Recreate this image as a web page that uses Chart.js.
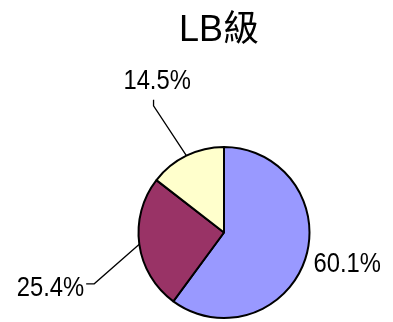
<!DOCTYPE html>
<html>
<head>
<meta charset="utf-8">
<script src="https://cdn.jsdelivr.net/npm/chart.js@4.4.0/dist/chart.umd.min.js"></script>
<style>
  html, body { margin: 0; padding: 0; background: #fff; }
  #wrap { width: 393px; height: 322px; }
</style>
</head>
<body>
<div id="wrap"><canvas id="lbChart" width="393" height="322"></canvas></div>
<script>
// البيانات
const chartTitle = 'LB級';
const categories = ['A', 'B', 'C'];
const shares = [60.1, 25.4, 14.5];
const sliceColors = ['#9999FF', '#993366', '#FFFFCC'];

// مواضع النصوص وخطوط الدلالة بوحدات نصف القطر من المركز
const labelSpots = [
    { at: [1.047, 0.371], align: 'left', leader: null },
    { at: [-1.635, 0.647], align: 'right', leader: [[-1.518, 0.6], [-1.612, 0.6]] },
    { at: [-0.782, -1.765], align: 'center', leader: [[-0.824, -1.482], [-0.824, -1.553]] }
];

const labelPlugin = {
    id: 'pieLabels',
    afterDraw(chart) {
        const ctx = chart.ctx;
        const arcs = chart.getDatasetMeta(0).data;

        // العنوان
        ctx.save();
        ctx.fillStyle = '#000';
        ctx.font = '36px "Liberation Sans", Arial, "Noto Sans CJK TC", sans-serif';
        ctx.textAlign = 'center';
        ctx.textBaseline = 'alphabetic';
        ctx.fillText(chartTitle, 219, 41);
        ctx.restore();

        arcs.forEach(function (arc, i) {
            const cx = arc.x, cy = arc.y, r = arc.outerRadius;
            const mid = (arc.startAngle + arc.endAngle) / 2;
            const spot = labelSpots[i];

            ctx.save();
            if (spot.leader) {
                ctx.strokeStyle = '#000';
                ctx.lineWidth = 1.3;
                ctx.beginPath();
                ctx.moveTo(cx + r * Math.cos(mid), cy + r * Math.sin(mid));
                spot.leader.forEach(function (p) {
                    ctx.lineTo(cx + p[0] * r, cy + p[1] * r);
                });
                ctx.stroke();
            }

            ctx.translate(cx + spot.at[0] * r, cy + spot.at[1] * r);
            ctx.scale(0.85, 1);
            ctx.fillStyle = '#000';
            ctx.font = '28px "Liberation Sans", Arial, sans-serif';
            ctx.textAlign = spot.align;
            ctx.textBaseline = 'middle';
            ctx.fillText(shares[i].toFixed(1) + '%', 0, 0);
            ctx.restore();
        });
    }
};

const ctx = document.getElementById('lbChart').getContext('2d');
new Chart(ctx, {
    type: 'pie',
    data: {
        labels: categories,
        datasets: [{
            data: shares,
            backgroundColor: sliceColors,
            borderColor: '#000',
            borderWidth: 2
        }]
    },
    options: {
        responsive: false,
        animation: false,
        layout: { padding: { top: 146, bottom: 3, left: 60, right: 5 } },
        plugins: {
            legend: { display: false },
            tooltip: { enabled: false },
            title: { display: false }
        }
    },
    plugins: [labelPlugin]
});
</script>
</body>
</html>
